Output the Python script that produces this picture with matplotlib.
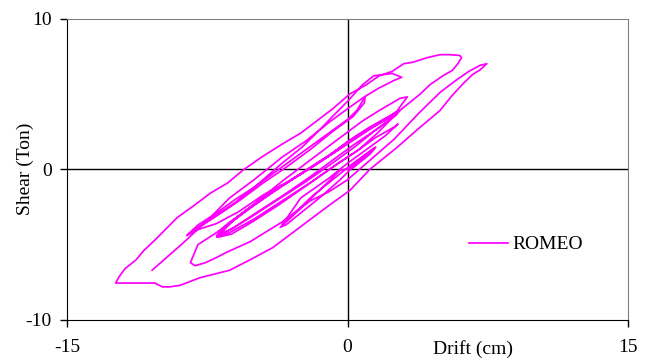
import numpy as np
import matplotlib
matplotlib.use('Agg')
import matplotlib.pyplot as plt

plt.rcParams['font.family'] = ['Liberation Serif', 'DejaVu Serif']
plt.rcParams['axes.unicode_minus'] = False

# drift (cm) / shear (ton) read off the loops, in test order
# small cycles near origin
small_d = [0.0, 0.6, 1.5, 1.2, 0.3, -0.4, -1.5, -2.5, -3.6,
           -3.3, -2.4, -1.4, -0.4, 0.5, 1.5,
           1.3, 0.2, -0.8, -1.9, -3.0, -3.5]
small_s = [0.0, 0.6, 1.45, 1.0, 0.1, -0.07, -1.4, -2.6, -3.85,
           -3.7, -2.8, -1.8, -0.7, 0.4, 1.45,
           1.3, 0.3, -0.7, -1.8, -3.1, -3.7]

# dense lower band, four passes
band_d = [-2.5, -1.0, 0.0, 1.0, 2.0, 2.7,
          2.5, 1.5, 0.5, -0.5, -2.0, -3.5, -5.0, -6.3, -7.0,
          -6.5, -5.5, -4.0, -2.5, -1.0, 0.0, 1.0, 2.0, 2.6,
          2.4, 1.6, 0.6, -0.6, -2.1, -3.6, -5.1, -6.2, -6.9,
          -6.6, -5.4, -4.1, -2.6, -1.1, 0.1, 1.1, 2.1, 2.7,
          2.5, 1.4, 0.4, -0.7, -2.2, -3.7, -5.2, -6.4, -7.0,
          -6.4, -5.6, -3.9, -2.4, -0.9, 0.2, 1.2, 2.2, 2.8,
          2.6, 1.5, 0.3, -0.8, -2.0, -3.4, -4.9, -6.1, -6.8,
          -6.2, -5.0, -3.6, -2.1, -0.7, 0.4, 1.5, 2.5]
band_s = [-1.9, -0.6, 0.4, 1.3, 2.2, 3.0,
          2.8, 2.1, 1.2, 0.4, -0.9, -2.1, -3.3, -4.2, -4.5,
          -3.8, -2.8, -1.5, -0.3, 0.9, 1.8, 2.6, 3.3, 3.8,
          3.4, 2.4, 1.3, 0.3, -1.0, -2.3, -3.5, -4.3, -4.5,
          -3.9, -2.7, -1.6, -0.4, 0.8, 1.9, 2.7, 3.4, 3.8,
          3.5, 2.5, 1.5, 0.5, -0.8, -2.0, -3.2, -4.1, -4.4,
          -3.6, -2.9, -1.4, -0.2, 1.0, 2.0, 2.8, 3.5, 3.9,
          3.6, 2.6, 1.6, 0.6, -0.5, -1.7, -2.9, -3.9, -4.3,
          -3.5, -2.4, -1.2, 0.0, 1.1, 2.0, 2.9, 3.6]

# loop to +3.2 then down to the U tip, then up to +7.45
mid_d = [2.9, 3.2, 2.8, 1.7, 0.8, -0.5, -2.0, -3.5, -5.2, -7.0, -8.0, -8.4,
         -8.15, -7.6, -7.0, -6.45, -5.2, -3.5, -2.0, -1.0, 0.0, 1.2, 2.5,
         3.8, 4.95, 5.8, 6.5, 7.1, 7.45]
mid_s = [4.3, 4.8, 4.7, 3.9, 3.2, 2.0, 0.6, -0.8, -2.5, -4.2, -5.0, -6.2,
         -6.4, -6.2, -5.85, -5.5, -4.8, -3.5, -2.1, -1.5, -0.7, 0.6, 2.0,
         3.7, 5.1, 5.9, 6.5, 6.9, 7.0]

# outer loop: down to -12.4, up to +6.1
outer_d = [7.1, 6.7, 6.2, 5.6, 4.95, 3.8, 2.65, 1.2, 0.13, -1.1, -2.55, -4.0,
           -5.2, -6.3, -7.9, -8.95, -9.5, -9.9, -10.3, -11.5, -12.4,
           -12.2, -11.9, -11.3, -10.9, -10.3, -9.1, -8.2, -7.35, -6.4, -5.6,
           -4.6, -3.45, -2.5, -1.6, -0.8, 0.13, 1.0, 1.7, 2.4, 3.0, 3.5,
           4.25, 4.95, 5.5, 6.0, 6.1]
outer_s = [6.6, 6.3, 5.7, 4.9, 3.9, 2.7, 1.45, 0.0, -1.4, -2.5, -3.85, -5.2,
           -6.0, -6.7, -7.2, -7.7, -7.8, -7.8, -7.55, -7.55, -7.55,
           -7.1, -6.6, -6.0, -5.4, -4.7, -3.2, -2.4, -1.6, -0.9, -0.07,
           0.8, 1.7, 2.4, 3.25, 4.0, 5.0, 5.6, 6.2, 6.5, 7.0, 7.1,
           7.4, 7.6, 7.6, 7.55, 7.4]

# back down into the upper band, its cycles, and the last push
upper_d = [5.9, 5.6, 5.1, 4.4, 3.9, 3.2, 2.5, 1.5, 0.5, -0.5, -1.8, -3.0,
           -4.5, -5.8, -7.0, -8.0, -8.6,
           -8.0, -7.0, -6.0, -5.0, -4.0, -3.0, -2.0, -1.0, 0.0, 0.5, 0.94,
           0.9, 0.3, -0.8, -2.0, -3.2, -4.5, -5.8, -7.0, -8.0, -8.5,
           -8.3, -7.2, -6.0, -4.8, -3.5, -2.4, -1.5, -0.8, 0.0, 0.8, 1.4,
           2.4, 2.9,
           2.5, 1.7, 0.9, 0.1, -1.0, -2.2, -3.5, -5.0, -6.3, -7.5, -8.8,
           -10.45]
upper_s = [7.0, 6.55, 6.2, 5.6, 5.0, 4.3, 3.6, 2.9, 2.2, 1.3, 0.2, -0.7,
           -1.7, -2.8, -3.6, -4.0, -4.4,
           -3.7, -2.9, -2.0, -1.2, -0.3, 0.6, 1.5, 2.4, 3.3, 3.9, 4.8,
           4.4, 3.5, 2.5, 1.3, 0.2, -0.9, -2.1, -3.1, -3.9, -4.3,
           -4.1, -3.2, -2.2, -1.0, 0.4, 1.5, 2.6, 3.5, 4.5, 5.6, 6.2,
           6.35, 6.1,
           5.9, 5.4, 4.8, 4.1, 3.1, 1.9, 0.8, -0.7, -1.9, -3.4, -4.9,
           -6.7]

drift = small_d + band_d + mid_d + outer_d + upper_d
shear = small_s + band_s + mid_s + outer_s + upper_s

fig = plt.figure(figsize=(6.55, 3.6), dpi=100)
ax = fig.add_axes([67/655, 1 - 320/360, (628 - 67)/655, (320 - 18.5)/360])

ax.axhline(0, color='black', lw=1, zorder=1)
ax.axvline(0, color='black', lw=1, zorder=1)
ax.plot(drift, shear, color='#FF00FF', lw=1.25, label='ROMEO', zorder=3)

ax.set_xlim(-15, 15)
ax.set_ylim(-10, 10)
ax.set_xticks([-15, 0, 15])
ax.set_yticks([-10, 0, 10])
ax.tick_params(direction='out', length=5, width=1, labelsize=14, colors='black')
ax.tick_params(axis='x', pad=9)
ax.tick_params(axis='y', pad=6)
for side in ['top', 'right']:
    ax.spines[side].set_color('#808080')
for side in ['left', 'bottom']:
    ax.spines[side].set_color('black')

ax.set_ylabel('Shear (Ton)', fontsize=14)
ax.yaxis.set_label_coords((34 - 67) / 561, 0.5)
fig.text(473/655, 1 - 349/360, 'Drift (cm)', ha='center', va='center', fontsize=14)

leg = ax.legend(loc='center left', bbox_to_anchor=(0.685, 0.25), frameon=False,
                fontsize=14, handlelength=2.0, handletextpad=0.25)

fig.savefig('out.png', dpi=100)
